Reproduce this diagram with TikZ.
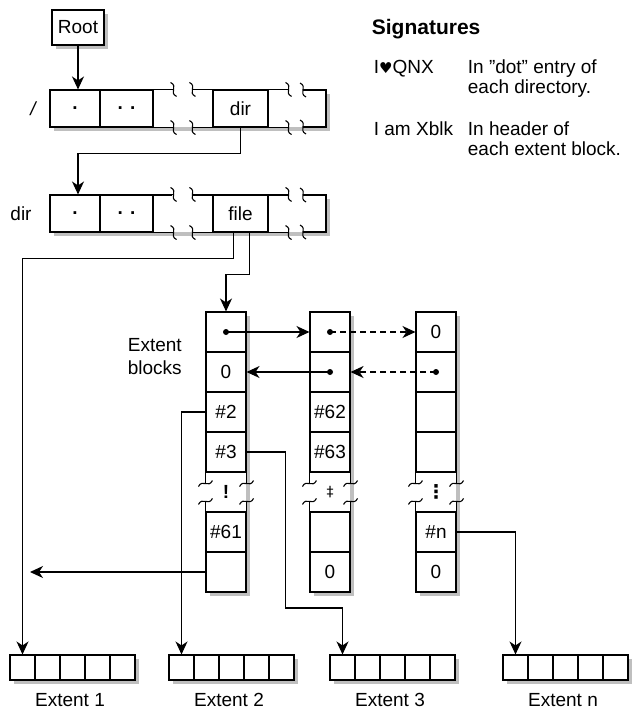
\documentclass[tikz,border=0pt]{standalone}
\usepackage{fontspec}
\setmainfont{Liberation Sans}
\newfontfamily\symfont{DejaVu Sans}
\usetikzlibrary{arrows.meta}
\tikzset{
  hbrk/.pic={\draw (-3,-7) .. controls (5,-3) and (-5,3) .. (3,7);},
  vbrk/.pic={\draw (-7,3) .. controls (-3,-5) and (3,5) .. (7,-3);}
}

\begin{document}
\begin{tikzpicture}[
    x=1pt, y=-1pt, line width=1.1pt, font=\fontsize{19}{23}\selectfont,
    cell/.style={draw, fill=white, inner sep=0pt, minimum height=37pt},
    blk/.style={draw, fill=white, inner sep=0pt, minimum width=40pt, minimum height=40pt},
    xcell/.style={draw, fill=white, inner sep=0pt, minimum width=25pt, minimum height=25pt},
    shade/.style={fill=black!25},
    thk/.style={line width=2.4pt},
    arr/.style={-{Stealth[length=13pt, width=12pt, inset=4pt]}}
  ]
    \useasboundingbox (0,0) rectangle (635,711);

    % root
    \fill[shade] (56,14) rectangle (108,49);
    \node[draw, fill=white, inner sep=0pt, minimum width=52pt, minimum height=35pt] (root) at (78,27.5) {Root};

    % root directory
    \fill[shade] (54,94) rectangle (330,131);
    \fill[white] (50,90) rectangle (326,127);
    \node[cell, minimum width=50pt] (rt1) at (75,108.5) {\bfseries .};
    \node[cell, minimum width=53pt] (rt2) at (126.5,108.5) {\bfseries . .};
    \node[cell, minimum width=55pt] (rt3) at (240.5,108.5) {dir};
    \draw (rt2.north east) -- ++(20,0) pic {hbrk} (rt2.south east) -- ++(20,0) pic {hbrk}
          (rt3.north west) -- ++(-20,0) pic {hbrk} (rt3.south west) -- ++(-20,0) pic {hbrk}
          (rt3.north east) -- ++(20,0) pic {hbrk} (rt3.south east) -- ++(20,0) pic {hbrk};
    \draw (303,90) -- (326,90) -- (326,127) -- (303,127);
    \path (303,90) pic {hbrk} (303,127) pic {hbrk};
    \draw[thk] (303,90) -- (326,90);
    \node (rtl) at (33,108.5) {\itshape /};

    % sub directory
    \fill[shade] (54,199) rectangle (330,236);
    \fill[white] (50,195) rectangle (326,232);
    \node[cell, minimum width=50pt] (dr1) at (75,213.5) {\bfseries .};
    \node[cell, minimum width=53pt] (dr2) at (126.5,213.5) {\bfseries . .};
    \node[cell, minimum width=55pt] (dr3) at (240.5,213.5) {file};
    \draw (dr2.north east) -- ++(20,0) pic {hbrk} (dr2.south east) -- ++(20,0) pic {hbrk}
          (dr3.north west) -- ++(-20,0) pic {hbrk} (dr3.south west) -- ++(-20,0) pic {hbrk}
          (dr3.north east) -- ++(20,0) pic {hbrk} (dr3.south east) -- ++(20,0) pic {hbrk};
    \draw (303,195) -- (326,195) -- (326,232) -- (303,232);
    \path (303,195) pic {hbrk} (303,232) pic {hbrk};
    \draw[thk] (153,195) -- (172,195) (193,195) -- (215,195) (268,195) -- (288,195);
    \node (drl) at (21,213.5) {dir};

    % signatures
    \node[anchor=base west, font=\bfseries\fontsize{21}{24}\selectfont] (sig) at (368,35) {Signatures};
    \node[anchor=base west] (s1) at (370,74) {I{\symfont\fontsize{15}{18}\selectfont ♥}QNX};
    \node[anchor=base west] (d1) at (464,74) {In "dot" entry of};
    \node[anchor=base west] (d1b) at (464,94) {each directory.};
    \node[anchor=base west] (s2) at (370,136) {I am Xblk};
    \node[anchor=base west] (d2) at (464,136) {In header of};
    \node[anchor=base west] (d2b) at (464,156) {each extent block.};

    % extent blocks
    \node[anchor=west, align=left] (ebl) at (124,357) {Extent\\blocks};

    \fill[shade] (210,316) rectangle (250,596);
    \fill[white] (206,312) rectangle (246,592);
    \node[blk] (b11) at (226,332) {};
    \node[blk] (b12) at (226,372) {0};
    \node[blk] (b13) at (226,412) {\#2};
    \node[blk] (b14) at (226,452) {\#3};
    \node[blk] (b16) at (226,532) {\#61};
    \node[blk] (b17) at (226,572) {};
    \node (k1) at (226,492) {\bfseries !};

    \fill[shade] (314,316) rectangle (354,596);
    \fill[white] (310,312) rectangle (350,592);
    \node[blk] (b21) at (330,332) {};
    \node[blk] (b22) at (330,372) {};
    \node[blk] (b23) at (330,412) {\#62};
    \node[blk] (b24) at (330,452) {\#63};
    \node[blk] (b26) at (330,532) {};
    \node[blk] (b27) at (330,572) {0};
    \node (k2) at (330,492) {{\symfont\fontsize{14}{16}\selectfont ‡}};

    \fill[shade] (420,316) rectangle (460,596);
    \fill[white] (416,312) rectangle (456,592);
    \node[blk] (b31) at (436,332) {0};
    \node[blk] (b32) at (436,372) {};
    \node[blk] (b33) at (436,412) {};
    \node[blk] (b34) at (436,452) {};
    \node[blk] (b36) at (436,532) {\#n};
    \node[blk] (b37) at (436,572) {0};
    \node (k3) at (436,492) {{\symfont\bfseries ⋮}};

    \foreach \c in {1,2,3} {
      \draw (b\c4.south west) -- ++(0,11) pic {vbrk} (b\c4.south east) -- ++(0,11) pic {vbrk}
            (b\c6.north west) -- ++(0,-10) pic {vbrk} (b\c6.north east) -- ++(0,-10) pic {vbrk};
    }

    % extents
    \foreach \n/\x in {1/10, 2/169, 3/330, n/503} {
      \fill[shade] (\x+4,659) rectangle (\x+129,684);
      \foreach \i in {0,...,4}
        \node[xcell] (ex\n\i) at ({\x+12.5+25*\i},667.5) {};
      \node (lx\n) at (\x+60,700) {Extent \n};
    }

    % links
    \draw[arr] (root.south) -- (root.south |- rt1.north);
    \draw[arr] (rt3.south) -- ++(0,26) -| ([xshift=3pt]dr1.north);
    \draw[arr] ([xshift=-7pt]dr3.south) -- ++(0,26) -| (ex10.north);
    \draw[arr] ([xshift=9pt]dr3.south) -- ++(0,42) -| (b11.north);

    \fill (b11) circle[radius=3pt] (b21) circle[radius=3pt]
          (b22) circle[radius=3pt] (b32) circle[radius=3pt];
    \draw[arr] (b11.center) -- (b21.west);
    \draw[arr, dash pattern=on 6pt off 4pt] (b21.center) -- (b31.west);
    \draw[arr] (b22.center) -- (b12.east);
    \draw[arr, dash pattern=on 6pt off 4pt] (b32.center) -- (b22.east);

    \coordinate (lost) at (30,572);
    \draw[arr] (b17.west) -- (lost);
    \draw[arr] (b13.west) -| (ex20.north);
    \draw[arr] (b14.east) -- ++(39,0) -- ++(0,156) -| (ex30.north);
    \draw[arr] (b36.east) -| (exn0.north);
  \end{tikzpicture}
\end{document}
